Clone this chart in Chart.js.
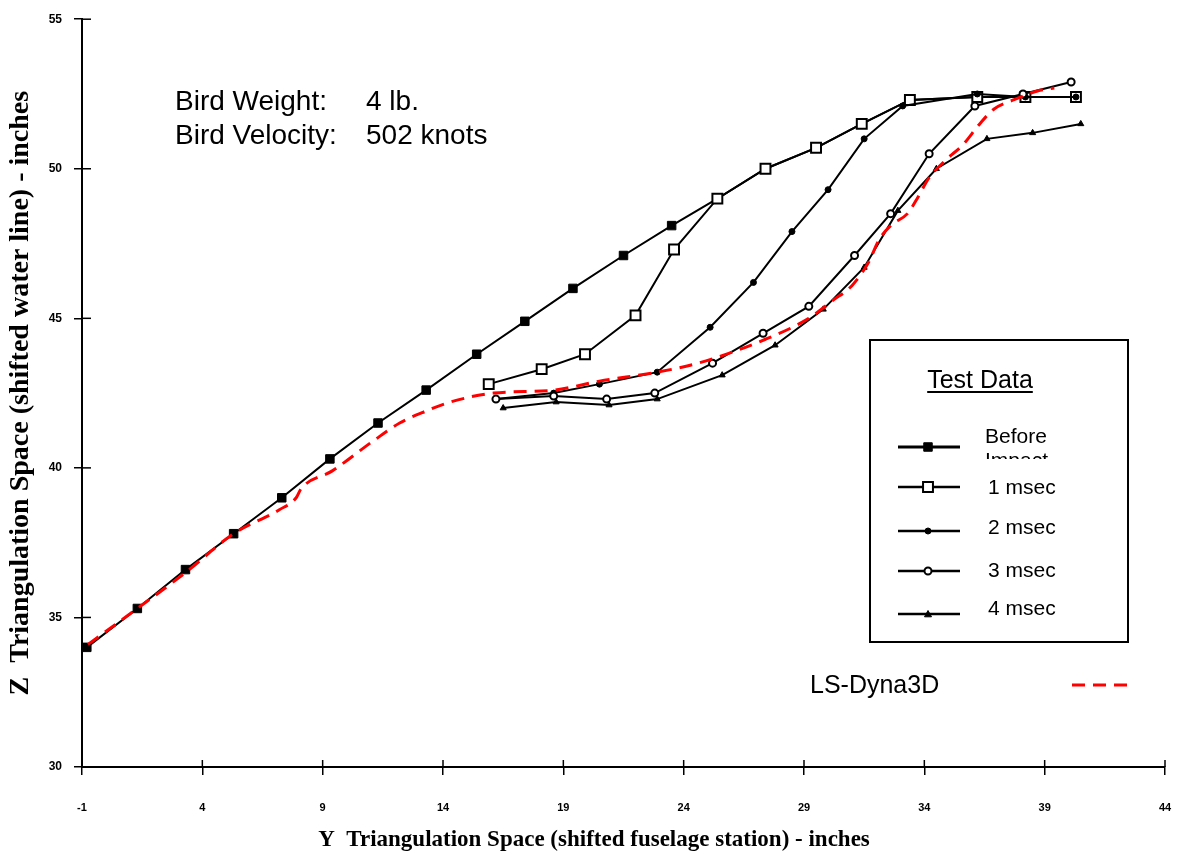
<!DOCTYPE html>
<html lang="en">
<head>
  <meta charset="UTF-8">
  <title>Bird Strike Deformation</title>
  <script src="https://cdn.jsdelivr.net/npm/chart.js"></script>
  <style>
    body { margin: 0; background: #fff; }
  </style>
</head>
<body>
  <canvas id="myChart" width="1182" height="863"></canvas>
<script>
  // tick labels for the x axis (they start at -1, not a multiple of 5)
  const xTicks = [-1, 4, 9, 14, 19, 24, 29, 34, 39, 44];

  const seriesLabels = ['Before Impact', '1 msec', '2 msec', '3 msec', '4 msec', 'LS-Dyna3D'];
  const xTitle = 'Y  Triangulation Space (shifted fuselage station) - inches';
  const yTitle = 'Z  Triangulation Space (shifted water line) - inches';

  const beforeX = [-0.8, 1.3, 3.3, 5.3, 7.3, 9.3, 11.3, 13.3, 15.4, 17.4, 19.4, 21.5, 23.5, 25.4, 27.4, 29.5, 31.4, 33.4, 36.2, 38.2, 40.3];
  const beforeY = [34.0, 35.3, 36.6, 37.8, 39.0, 40.3, 41.5, 42.6, 43.8, 44.9, 46.0, 47.1, 48.1, 49.0, 50.0, 50.7, 51.5, 52.3, 52.4, 52.4, 52.4];

  const msec1X = [15.9, 18.1, 19.9, 22.0, 23.6, 25.4, 27.4, 29.5, 31.4, 33.4, 36.2, 38.2, 40.3];
  const msec1Y = [42.8, 43.3, 43.8, 45.1, 47.3, 49.0, 50.0, 50.7, 51.5, 52.3, 52.4, 52.4, 52.4];

  const msec2X = [16.2, 18.6, 20.5, 22.9, 25.1, 26.9, 28.5, 30.0, 31.5, 33.1, 36.2, 38.2, 40.3];
  const msec2Y = [42.3, 42.5, 42.8, 43.2, 44.7, 46.2, 47.9, 49.3, 51.0, 52.1, 52.5, 52.4, 52.4];

  const msec3X = [16.2, 18.6, 20.8, 22.8, 25.2, 27.3, 29.2, 31.1, 32.6, 34.2, 36.1, 38.1, 40.1];
  const msec3Y = [42.3, 42.4, 42.3, 42.5, 43.5, 44.5, 45.4, 47.1, 48.5, 50.5, 52.1, 52.5, 52.9];

  const msec4X = [16.5, 18.7, 20.9, 22.9, 25.6, 27.8, 29.8, 31.5, 32.9, 34.5, 36.6, 38.5, 40.5];
  const msec4Y = [42.0, 42.2, 42.1, 42.3, 43.1, 44.1, 45.3, 46.7, 48.6, 50.0, 51.0, 51.2, 51.5];

  const dynaX = [-0.75, 1.3, 3.3, 5.3, 7.2, 7.9, 8.1, 9.4, 11.1, 12.2, 13.3, 14.3, 16.1, 18.6, 20.5, 22.9, 24.6, 27.4, 29.2, 30.2, 31.0, 31.7, 32.1, 32.6, 33.3, 33.7, 34.2, 34.9, 35.6, 36.3, 36.9, 37.7, 38.7, 39.4];
  const dynaY = [34.1, 35.3, 36.5, 37.8, 38.6, 39.0, 39.3, 39.9, 40.9, 41.5, 41.9, 42.2, 42.5, 42.6, 42.9, 43.2, 43.5, 44.3, 45.0, 45.6, 46.1, 46.9, 47.6, 48.1, 48.5, 49.0, 49.7, 50.3, 50.8, 51.5, 52.0, 52.3, 52.6, 52.7];

  function pts(xs, ys) {
    return xs.map((x, i) => ({ x: x, y: ys[i] }));
  }

  // ticks in the original cross the axis line, so draw the inner half too
  const innerTicks = {
    id: 'innerTicks',
    afterDraw(chart) {
      const ctx = chart.ctx;
      const xs = chart.scales.x, ys = chart.scales.y;
      ctx.save();
      ctx.strokeStyle = '#000';
      ctx.lineWidth = 1.5;
      xs.ticks.forEach(t => {
        const px = xs.getPixelForValue(t.value);
        ctx.beginPath();
        ctx.moveTo(px, ys.bottom);
        ctx.lineTo(px, ys.bottom - 7);
        ctx.stroke();
      });
      ys.ticks.forEach(t => {
        const py = ys.getPixelForValue(t.value);
        ctx.beginPath();
        ctx.moveTo(xs.left, py);
        ctx.lineTo(xs.left + 9, py);
        ctx.stroke();
      });
      ctx.restore();
    }
  };

  function marker(ctx, ds, x, y) {
    const r = ds.pointRadius;
    ctx.save();
    ctx.fillStyle = ds.pointBackgroundColor;
    ctx.strokeStyle = '#000';
    ctx.lineWidth = ds.pointBorderWidth;
    ctx.beginPath();
    if (ds.pointStyle === 'rect') {
      const s = r * Math.SQRT1_2;
      ctx.rect(x - s, y - s, 2 * s, 2 * s);
    } else if (ds.pointStyle === 'triangle') {
      ctx.moveTo(x, y - r);
      ctx.lineTo(x + r, y + r * 0.8);
      ctx.lineTo(x - r, y + r * 0.8);
      ctx.closePath();
    } else {
      ctx.arc(x, y, r, 0, Math.PI * 2);
    }
    ctx.fill();
    ctx.stroke();
    ctx.restore();
  }

  // the boxed "Test Data" legend, the dyna key, the bird notes and the x title
  const notes = {
    id: 'notes',
    afterDraw(chart) {
      const ctx = chart.ctx;
      const sets = chart.data.datasets;
      ctx.save();
      ctx.fillStyle = '#000';
      ctx.textBaseline = 'alphabetic';
      ctx.font = '28px "Liberation Sans", Arial, sans-serif';
      ctx.fillText('Bird Weight:', 175, 110);
      ctx.fillText('4 lb.', 366, 110);
      ctx.fillText('Bird Velocity:', 175, 144);
      ctx.fillText('502 knots', 366, 144);

      // x axis title sits a bit left of the plot centre in the original
      ctx.font = 'bold 23px "Liberation Serif", "Times New Roman", serif';
      ctx.textAlign = 'center';
      ctx.fillText(xTitle, 594, 846);

      // box
      ctx.strokeStyle = '#000';
      ctx.lineWidth = 2;
      ctx.strokeRect(870, 340, 258, 302);

      ctx.font = '25px "Liberation Sans", Arial, sans-serif';
      ctx.fillText('Test Data', 980, 388);
      const tw = ctx.measureText('Test Data').width;
      ctx.beginPath();
      ctx.moveTo(980 - tw / 2, 392);
      ctx.lineTo(980 + tw / 2, 392);
      ctx.stroke();
      ctx.textAlign = 'left';

      const rowY = [447, 487, 531, 571, 614];
      const textY = [443, 494, 534, 577, 615];
      ctx.font = '21px "Liberation Sans", Arial, sans-serif';
      for (let i = 0; i < 5; i++) {
        const ds = sets[i];
        ctx.strokeStyle = '#000';
        ctx.lineWidth = i === 0 ? 3 : 2.5;
        ctx.beginPath();
        ctx.moveTo(898, rowY[i]);
        ctx.lineTo(960, rowY[i]);
        ctx.stroke();
        marker(ctx, ds, 928, rowY[i]);
        if (i === 0) {
          const words = ds.label.split(' ');
          ctx.fillText(words[0], 985, textY[0]);
          // second word is cut off in the original box
          ctx.save();
          ctx.beginPath();
          ctx.rect(960, 450, 120, 9);
          ctx.clip();
          ctx.fillText(words[1], 985, textY[0] + 24);
          ctx.restore();
        } else {
          ctx.fillText(ds.label, 988, textY[i]);
        }
      }

      // LS-Dyna3D key outside the box
      const dyna = sets[5];
      ctx.font = '25px "Liberation Sans", Arial, sans-serif';
      ctx.fillText(dyna.label, 810, 693);
      ctx.strokeStyle = dyna.borderColor;
      ctx.lineWidth = dyna.borderWidth;
      ctx.setLineDash(dyna.borderDash);
      ctx.beginPath();
      ctx.moveTo(1072, 685);
      ctx.lineTo(1130, 685);
      ctx.stroke();
      ctx.restore();
    }
  };

  new Chart(document.getElementById('myChart'), {
    type: 'scatter',
    data: {
      datasets: [
        {
          label: seriesLabels[0], data: pts(beforeX, beforeY), order: 5,
          showLine: true, borderColor: '#000', borderWidth: 2,
          pointStyle: 'rect', pointRadius: 6, pointBackgroundColor: '#000', pointBorderColor: '#000', pointBorderWidth: 1
        },
        {
          label: seriesLabels[1], data: pts(msec1X, msec1Y), order: 4,
          showLine: true, borderColor: '#000', borderWidth: 2,
          pointStyle: 'rect', pointRadius: 7, pointBackgroundColor: '#fff', pointBorderColor: '#000', pointBorderWidth: 2
        },
        {
          label: seriesLabels[2], data: pts(msec2X, msec2Y), order: 3,
          showLine: true, borderColor: '#000', borderWidth: 2,
          pointStyle: 'circle', pointRadius: 3, pointBackgroundColor: '#000', pointBorderColor: '#000', pointBorderWidth: 1
        },
        {
          label: seriesLabels[3], data: pts(msec3X, msec3Y), order: 2,
          showLine: true, borderColor: '#000', borderWidth: 2,
          pointStyle: 'circle', pointRadius: 3.5, pointBackgroundColor: '#fff', pointBorderColor: '#000', pointBorderWidth: 2
        },
        {
          label: seriesLabels[4], data: pts(msec4X, msec4Y), order: 1,
          showLine: true, borderColor: '#000', borderWidth: 2,
          pointStyle: 'triangle', pointRadius: 3.5, pointBackgroundColor: '#000', pointBorderColor: '#000', pointBorderWidth: 1
        },
        {
          label: seriesLabels[5], data: pts(dynaX, dynaY), order: 0,
          showLine: true, borderColor: '#ff0000', borderWidth: 3, borderDash: [13, 8],
          cubicInterpolationMode: 'monotone', pointRadius: 0
        }
      ]
    },
    options: {
      responsive: false,
      animation: false,
      layout: { padding: { left: 0, right: 17, top: 18, bottom: 0 } },
      plugins: {
        legend: { display: false },
        tooltip: { enabled: false }
      },
      scales: {
        x: {
          type: 'linear',
          min: -1,
          max: 44,
          afterBuildTicks: s => { s.ticks = xTicks.map(v => ({ value: v })); },
          // big label padding would otherwise be added to the side padding
          afterFit: s => { s.height = 96; s.paddingLeft = 0; s.paddingRight = 0; },
          grid: { drawOnChartArea: false, drawTicks: true, tickLength: 8, color: '#000', lineWidth: 1.5 },
          border: { color: '#000', width: 2 },
          ticks: { color: '#000', padding: 26, maxRotation: 0, autoSkip: false,
                   font: { family: '"Liberation Sans", Arial, sans-serif', size: 11, weight: 'bold' } },
          title: { display: false, text: xTitle }
        },
        y: {
          min: 30,
          max: 55,
          afterFit: s => { s.width = 82; },
          grid: { drawOnChartArea: false, drawTicks: true, tickLength: 8, color: '#000', lineWidth: 1.5 },
          border: { color: '#000', width: 2 },
          ticks: { stepSize: 5, color: '#000', padding: 12,
                   font: { family: '"Liberation Sans", Arial, sans-serif', size: 12, weight: 'bold' } },
          title: {
            display: true,
            text: yTitle,
            color: '#000',
            font: { family: '"Liberation Serif", "Times New Roman", serif', size: 28, weight: 'bold' },
            padding: { top: 4, bottom: 0 }
          }
        }
      }
    },
    plugins: [innerTicks, notes]
  });
</script>
</body>
</html>
